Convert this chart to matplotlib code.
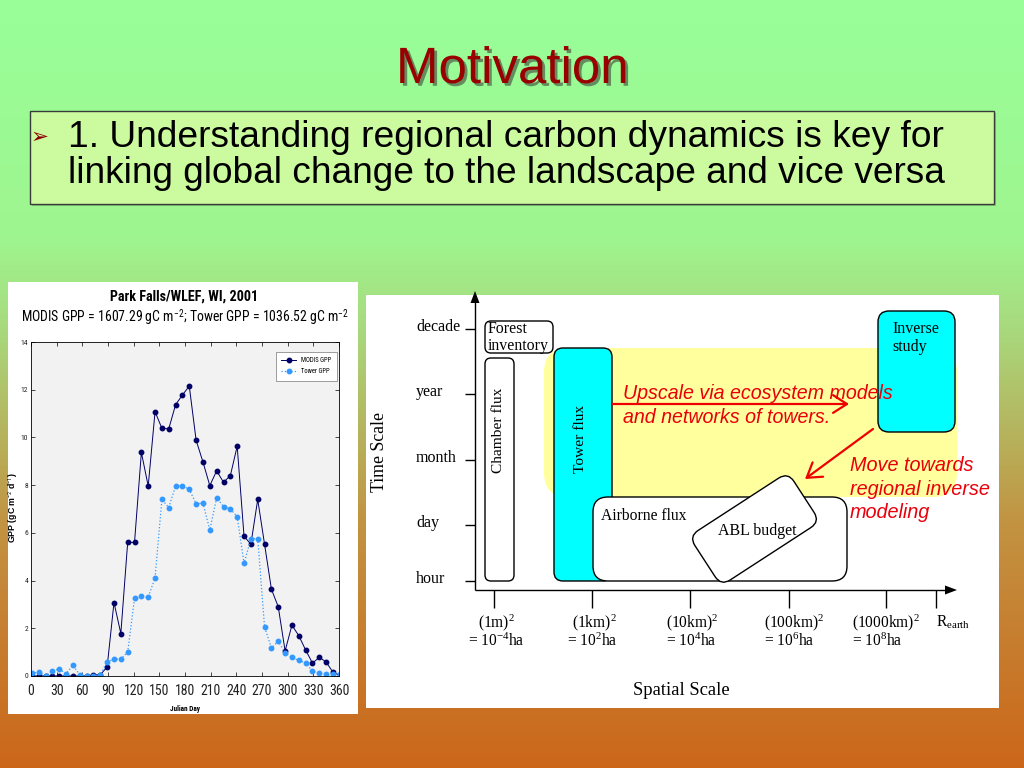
import matplotlib
matplotlib.use('Agg')
import matplotlib.pyplot as plt
import matplotlib.patheffects as pe
import numpy as np
from matplotlib.patches import Rectangle, FancyBboxPatch, Polygon
from matplotlib.transforms import Affine2D
from matplotlib import font_manager as fm

names = {f.name for f in fm.fontManager.ttflist}


def pick(cands, default):
    for c in cands:
        if c in names:
            return c
    return default


NARROW = pick(['Liberation Sans Narrow', 'Arial Narrow', 'Roboto Condensed', 'PT Sans Narrow',
               'Archivo Narrow', 'Asap Condensed'], 'Liberation Sans')
NARROW_B = pick(['Liberation Sans Narrow', 'Arial Narrow', 'Roboto Condensed', 'PT Sans Narrow',
                 'Asap Condensed', 'Barlow Semi Condensed'], 'Liberation Sans')
SANS = 'Liberation Sans'
SERIF = 'Liberation Serif'

plt.rcParams['mathtext.fontset'] = 'custom'
plt.rcParams['mathtext.rm'] = SERIF
plt.rcParams['mathtext.it'] = SERIF + ':italic'
plt.rcParams['mathtext.sf'] = NARROW

# ---------------- data ----------------
julian_day = [1, 9, 17, 25, 33, 41, 49, 57, 65, 73, 81, 89, 97, 105, 113, 121,
              129, 137, 145, 153, 161, 169, 177, 185, 193, 201, 209, 217, 225,
              233, 241, 249, 257, 265, 273, 281, 289, 297, 305, 313, 321, 329,
              337, 345, 353, 361]
modis_gpp = [0, 0, 0, 0, 0, 0, 0, 0, 0, 0.05, 0.05, 0.38, 3.08, 1.78, 5.6, 5.6,
             9.37, 7.96, 11.08, 10.38, 10.36, 11.37, 11.78, 12.15, 9.88, 8.97,
             7.98, 8.6, 8.12, 8.4, 9.63, 5.86, 5.52, 7.4, 5.52, 3.64, 2.9, 1.05,
             2.13, 1.69, 1.09, 0.54, 0.78, 0.59, 0.15, 0.02]
tower_gpp = [0.12, 0.15, 0.02, 0.2, 0.3, 0.1, 0.45, 0.05, 0.0, 0.02, 0.05, 0.6,
             0.7, 0.72, 1.0, 3.25, 3.35, 3.3, 4.12, 7.4, 7.06, 7.97, 7.97, 7.82,
             7.22, 7.25, 6.12, 7.47, 7.1, 7.0, 6.68, 4.72, 5.75, 5.75, 2.05, 1.18,
             1.45, 0.98, 0.78, 0.65, 0.55, 0.2, 0.12, 0.1, 0.1, 0.1]
x_ticks = [0, 30, 60, 90, 120, 150, 180, 210, 240, 270, 300, 330, 360]
y_ticks = [0, 2, 4, 6, 8, 10, 12, 14]

time_labels = ['decade', 'year', 'month', 'day', 'hour']
space_labels_1 = ['(1m)$^2$', '(1km)$^2$', '(10km)$^2$', '(100km)$^2$', '(1000km)$^2$']
space_labels_2 = ['= 10$^{-4}$ha', '= 10$^2$ha', '= 10$^4$ha', '= 10$^6$ha', '= 10$^8$ha']

W, H = 1024, 768
fig = plt.figure(figsize=(10.24, 7.68), dpi=100)
bg = fig.add_axes([0, 0, 1, 1], zorder=0)
bg.set_xlim(0, W)
bg.set_ylim(H, 0)
bg.axis('off')

# gradient background
stops_y = [0, 240, 330, 520, 768]
stops_c = [(0.60, 1.00, 0.60), (0.62, 0.96, 0.56), (0.66, 0.85, 0.49),
           (0.76, 0.58, 0.26), (0.80, 0.40, 0.10)]
yy = np.arange(H) + 0.5
grad = np.stack([np.interp(yy, stops_y, [c[i] for c in stops_c]) for i in range(3)], axis=-1)
img = np.repeat(grad[:, None, :], 2, axis=1)
bg.imshow(img, extent=(0, W, H, 0), aspect='auto', zorder=0, interpolation='bilinear')
bg.set_xlim(0, W)
bg.set_ylim(H, 0)

fits = []


def T(x, y, s, w=None, mode='w', group=None, **kw):
    kw.setdefault('va', 'baseline')
    kw.setdefault('zorder', 8)
    t = bg.text(x, y, s, **kw)
    if w is not None:
        fits.append(([t] + (group or []), w, mode))
    return t


# title with drop shadow
T(512, 83, 'Motivation', w=233, ha='center', fontsize=36, color='#990000',
  family=SANS,
  path_effects=[pe.withSimplePatchShadow(offset=(2, -2), shadow_rgbFace='#333333', alpha=0.55)])

# text box
bg.add_patch(Rectangle((32, 113), 964, 93, fc='#6a9a60', ec='none', alpha=0.5, zorder=2))
bg.add_patch(Rectangle((30, 111), 964, 93, fc='#CCFA9E', ec='#3A3A3A', lw=1, zorder=3))
T(31, 143, '\u27A2', w=18, family='DejaVu Sans', fontsize=14, color='#8B0000')
T(68, 147, '1. Understanding regional carbon dynamics is key for', w=875,
  family=SANS, fontsize=27, color='black')
T(68, 183, 'linking global change to the landscape and vice versa', w=876,
  family=SANS, fontsize=27, color='black')

# white panels
bg.add_patch(Rectangle((8, 282), 350, 432, fc='white', ec='none', zorder=2))
bg.add_patch(Rectangle((366, 295), 633, 413, fc='white', ec='none', zorder=2))

# ---------------- GPP chart ----------------
T(184, 301, 'Park Falls/WLEF, WI, 2001', w=148, ha='center', weight='bold',
  family=NARROW_B, fontsize=11)
T(184.5, 323, r'MODIS GPP = 1607.29 gC m$^{\mathsf{-2}}$; Tower GPP = 1036.52 gC m$^{\mathsf{-2}}$',
  w=327, ha='center', family=NARROW, fontsize=11)
T(185, 709, 'Julian Day', w=30, ha='center', va='center', weight='bold',
  family=NARROW_B, fontsize=6)
T(13, 508, r'GPP (gC m$^{\mathsf{-2}}$ d$^{\mathsf{-1}}$)', w=71, mode='h', rotation=90,
  ha='center', va='center', weight='bold', family=SANS, fontsize=6)

ax = fig.add_axes([31 / W, 1 - 676 / H, 308 / W, 334 / H], zorder=1)
ax.set_facecolor('#F2F2F2')
ax.plot(julian_day, modis_gpp, '-o', color='#000066', lw=0.7, ms=3.2,
        label='MODIS GPP')
ax.plot(julian_day, tower_gpp, ':o', color='#3399FF', lw=0.9, ms=3.2,
        label='Tower GPP')
ax.set_xlim(0, 360)
ax.set_ylim(0, 14)
ax.set_xticks(x_ticks)
ax.set_yticks(y_ticks)
ax.tick_params(direction='in', top=True, right=True, length=3, width=0.5)
ax.tick_params(axis='x', labelsize=10, pad=6)
ax.tick_params(axis='y', labelsize=5.5, pad=2)
for lab in ax.get_xticklabels() + ax.get_yticklabels():
    lab.set_family(NARROW)
    lab.set_color('#222222')
for sp in ax.spines.values():
    sp.set_linewidth(0.6)
leg = ax.legend(loc='upper right', bbox_to_anchor=((337 - 31) / 308, (676 - 352) / 334),
                borderaxespad=0, fancybox=False, edgecolor='#777777',
                framealpha=1, handlelength=2.2, borderpad=0.8, labelspacing=0.6,
                prop={'family': NARROW, 'size': 4.8})
leg.get_frame().set_linewidth(0.5)

# ---------------- diagram ----------------
k = dict(color='black', lw=1, zorder=6, solid_capstyle='butt')
bg.plot([475, 475], [590, 302], **k)
bg.plot([475, 946], [590, 590], **k)
bg.add_patch(Polygon([(470.5, 303), (479.5, 303), (475, 291)], closed=True, fc='black', ec='none', zorder=6))
bg.add_patch(Polygon([(945, 585.5), (945, 594.5), (957, 590)], closed=True, fc='black', ec='none', zorder=6))

time_y = [329, 394, 460, 525, 581]
for yv in time_y:
    bg.plot([465, 475], [yv, yv], **k)
space_x = [494, 592, 690, 789, 886, 936]
for xv in space_x:
    bg.plot([xv, xv], [590, 608], **k)

tl = []
for lab, yv in zip(time_labels, time_y):
    tl.append(T(416, yv + 2, lab, family=SERIF, fontsize=11.7))
fits.append((tl, 45, 'w'))

c1 = [496, 594, 692, 794, 886]
c2 = [496, 592, 691, 789, 877]
sl = []
for s1, s2, a, b in zip(space_labels_1, space_labels_2, c1, c2):
    sl.append(T(a, 627, s1, ha='center', family=SERIF, fontsize=11.7))
    sl.append(T(b, 646, s2, ha='center', family=SERIF, fontsize=11.7))
re = T(936, 627, r'R$_{\mathrm{earth}}$', family=SERIF, fontsize=11.7)
fits.append((sl + [re], 37, 'w'))

T(379, 452, 'Time Scale', w=80, mode='h', rotation=90, ha='center', va='center',
  family=SERIF, fontsize=13)
T(681, 695, 'Spatial Scale', w=97, ha='center', family=SERIF, fontsize=13)


def rbox(x0, y0, x1, y1, r, fc, ec='black', lw=1, z=3):
    p = FancyBboxPatch((x0, y0), x1 - x0, y1 - y0,
                       boxstyle=f'round,pad=0,rounding_size={r}',
                       fc=fc, ec=ec, lw=lw, zorder=z)
    bg.add_patch(p)
    return p


rbox(544, 348, 957, 497, 24, '#FFFF9E', ec='none', z=3)
rbox(485, 321, 553, 353, 6, 'white', z=4)
rbox(485, 358, 514, 581, 6, 'white', z=4)
rbox(554, 348, 612, 581, 9, '#00FFFF', z=4)
rbox(878, 311, 955, 432, 11, '#00FFFF', z=4)
rbox(593, 497, 847, 581, 15, 'white', z=5)
abl = FancyBboxPatch((-59, -29.5), 118, 59, boxstyle='round,pad=0,rounding_size=11',
                     fc='white', ec='black', lw=1, zorder=6,
                     transform=Affine2D().rotate_deg(-33).translate(754.5, 529) + bg.transData)
bg.add_patch(abl)

bt = [T(488, 350, 'inventory', family=SERIF, fontsize=11.5),
      T(488, 333, 'Forest', family=SERIF, fontsize=11.5)]
fits.append((bt, 61, 'w'))
T(499, 430, 'Chamber flux', w=85, mode='h', rotation=90, ha='center', va='center',
  family=SERIF, fontsize=11.5)
T(581, 439, 'Tower flux', w=68, mode='h', rotation=90, ha='center', va='center',
  family=SERIF, fontsize=11.5)
iv = [T(892, 333, 'Inverse', family=SERIF, fontsize=11.5),
      T(892, 351, 'study', family=SERIF, fontsize=11.5)]
fits.append((iv, 47, 'w'))
T(601, 520, 'Airborne flux', w=86, family=SERIF, fontsize=11.5)
T(718, 535, 'ABL budget', w=79, family=SERIF, fontsize=11.5)

red = '#E8000B'
rt = [T(623, 399, 'Upscale via ecosystem models', family=SANS, style='italic',
        fontsize=12.5, color=red),
      T(623, 423, 'and networks of towers.', family=SANS, style='italic',
        fontsize=12.5, color=red)]
fits.append((rt, 271, 'w'))
mt = [T(850, 495, 'regional inverse', family=SANS, style='italic', fontsize=12.5, color=red),
      T(850, 471, 'Move towards', family=SANS, style='italic', fontsize=12.5, color=red),
      T(850, 518, 'modeling', family=SANS, style='italic', fontsize=12.5, color=red)]
fits.append((mt, 140, 'w'))

ap = dict(arrowstyle='->,head_length=0.5,head_width=0.32', color='#EE0000', lw=1.6,
          shrinkA=0, shrinkB=0, mutation_scale=20)
bg.annotate('', xy=(849, 404), xytext=(612, 404), arrowprops=ap, zorder=9)
bg.annotate('', xy=(805, 479), xytext=(873, 429), arrowprops=ap, zorder=9)

# fit text sizes to measured widths
fig.canvas.draw()
r = fig.canvas.get_renderer()
for texts, target, mode in fits:
    bb = texts[0].get_window_extent(r)
    cur = bb.width if mode == 'w' else bb.height
    if cur > 0:
        sc = target / cur
        for t in texts:
            t.set_fontsize(t.get_fontsize() * sc)

fig.savefig('out.png', dpi=100)
